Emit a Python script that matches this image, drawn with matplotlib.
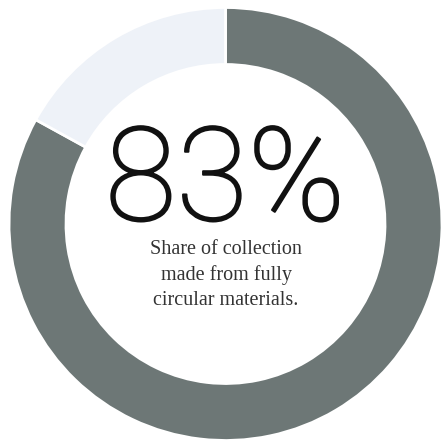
import matplotlib.pyplot as plt
import matplotlib.patheffects as pe

# share of collection
labels = ['circular', 'other']
shares = [83, 17]
colors = ['#6d7776', '#eef2f8']
big_label = '83%'
caption = 'Share of collection\nmade from fully\ncircular materials.'

fig = plt.figure(figsize=(4.44, 4.44), dpi=100)
ax = fig.add_axes([0, 0, 1, 1])
ax.set_xlim(0, 444)
ax.set_ylim(0, 444)
ax.set_aspect('equal')
ax.axis('off')

ax.pie(shares, colors=colors, startangle=90, counterclock=False,
       radius=216.5, center=(225.5, 220),
       wedgeprops=dict(width=57, edgecolor='white', linewidth=2))
ax.set_xlim(0, 444)
ax.set_ylim(0, 444)

ax.text(225, 260, big_label, ha='center', va='center', fontsize=94,
        family='Roboto', fontweight='light', color='#111111',
        path_effects=[pe.withStroke(linewidth=1.4, foreground='#111111')])
ax.text(226, 169, caption, ha='center', va='center', fontsize=14.5,
        family='Liberation Serif', color='#333333', linespacing=1.4)

fig.savefig('out.png', dpi=100)
